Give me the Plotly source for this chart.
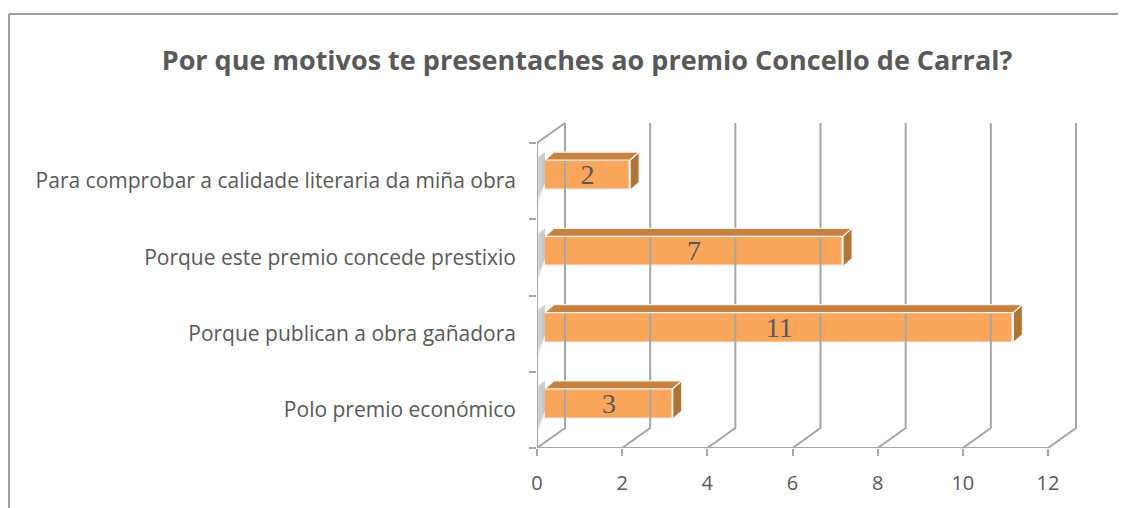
import plotly.graph_objects as go

# ---- data ----
categories = [
    "Polo premio económico",
    "Porque publican a obra gañadora",
    "Porque este premio concede prestixio",
    "Para comprobar a calidade literaria da miña obra",
]
values = [3, 11, 7, 2]
x_ticks = [0, 2, 4, 6, 8, 10, 12]
title_text = "Por que motivos te presentaches ao premio Concello de Carral?"

# ---- geometry / style ----
OFF = 8                                # page body margin shift
W, H = 1126 - OFF, 508 - OFF
ML = 537 - OFF
TOPPX = 110 - OFF
FLOOR = 448 - OFF
MR = W - (1086 - OFF)
MT, MB = TOPPX, H - FLOOR
px_x = (1048 - 537) / 12.0           # pixels per x unit
px_y = (448 - 143) / 4.0             # pixels per category
plot_w = W - ML - MR
plot_h = H - MT - MB
x_max = plot_w / px_x
y_max = plot_h / px_y

DX, DY = 28 / px_x, 20 / px_y        # full depth of the 3D box
OX, OY = 8 / px_x, 6 / px_y          # bar front-face offset (mid depth)
BDX, BDY = 9 / px_x, 8 / px_y        # bar depth
BW = 30 / px_y                       # bar thickness

GRID = "#A6A6A6"
FRONT = "#F9A65A"
TOP = "#C8823F"
SIDE = "#AE7434"
EDGE = "#F2F2F2"
TXT = "#595959"
n = len(categories)

fig = go.Figure()

# walls / floor gridlines
for v in x_ticks:
    fig.add_trace(go.Scatter(x=[v, v + DX, v + DX], y=[0, DY, n + DY], mode="lines",
                             line=dict(color=GRID, width=2), hoverinfo="skip", showlegend=False))
# left wall front edge + top diagonal
fig.add_trace(go.Scatter(x=[0, 0, DX], y=[0, n, n + DY], mode="lines",
                         line=dict(color=GRID, width=2), hoverinfo="skip", showlegend=False))
# floor front edge
fig.add_trace(go.Scatter(x=[x_ticks[0], x_ticks[-1]], y=[0, 0], mode="lines",
                         line=dict(color=GRID, width=2), hoverinfo="skip", showlegend=False))

# soft shadows on the left wall behind bars
for i, v in enumerate(values):
    yc = i + 0.5 + OY
    for k, a in enumerate([0.12, 0.14, 0.16]):
        fig.add_trace(go.Scatter(
            x=[0.03, OX, OX, 0.03],
            y=[yc - BW / 2 - 0.20 + k * 0.06, yc - BW / 2 + BDY, yc + BW / 2 + BDY,
               yc + BW / 2 + 0.06 - k * 0.02],
            fill="toself", fillcolor="rgba(120,120,120,%.2f)" % a, line=dict(width=0),
            mode="lines", hoverinfo="skip", showlegend=False))

# bars (front face)
fig.add_trace(go.Bar(
    y=[i + 0.5 + OY for i in range(n)], x=values, base=[OX] * n, orientation="h",
    width=BW, marker=dict(color=FRONT, line=dict(color=EDGE, width=1.5)),
    hoverinfo="skip", showlegend=False))

# 3D top and right faces
for i, v in enumerate(values):
    yc = i + 0.5 + OY
    yt, yb = yc + BW / 2, yc - BW / 2
    x1 = OX + v
    fig.add_trace(go.Scatter(
        x=[OX, x1, x1 + BDX, OX + BDX, OX], y=[yt, yt, yt + BDY, yt + BDY, yt],
        fill="toself", fillcolor=TOP, line=dict(color=EDGE, width=1.2),
        mode="lines", hoverinfo="skip", showlegend=False))
    fig.add_trace(go.Scatter(
        x=[x1, x1 + BDX, x1 + BDX, x1, x1], y=[yb, yb + BDY, yt + BDY, yt, yb],
        fill="toself", fillcolor=SIDE, line=dict(color=EDGE, width=1.2),
        mode="lines", hoverinfo="skip", showlegend=False))

# data labels centred on the front faces
fig.add_trace(go.Scatter(
    x=[OX + v / 2 for v in values], y=[i + 0.5 + OY - 2 / px_y for i in range(n)],
    mode="text", text=[str(v) for v in values], textposition="middle center",
    textfont=dict(family="Liberation Serif, DejaVu Serif, serif", size=28, color=TXT),
    hoverinfo="skip", showlegend=False, cliponaxis=False))

# chart border (top and left edges)
top_y = (FLOOR - (14 - OFF)) / plot_h
left_x = (1 - ML) / plot_w
fig.add_shape(type="line", xref="paper", yref="paper",
              x0=left_x, x1=(W - ML) / plot_w, y0=top_y, y1=top_y,
              line=dict(color="#9E9E9E", width=2), layer="below")
fig.add_shape(type="line", xref="paper", yref="paper",
              x0=left_x, x1=left_x, y0=top_y, y1=-(H - FLOOR) / plot_h,
              line=dict(color="#9E9E9E", width=2), layer="below")

fig.update_layout(
    width=W, height=H,
    margin=dict(l=ML, r=MR, t=MT, b=MB, autoexpand=False),
    paper_bgcolor="white", plot_bgcolor="white",
    title=dict(text="<b>" + title_text + "</b>", xref="container", yref="container",
               x=(587 - OFF) / W, y=1 - (61 - OFF) / H, xanchor="center", yanchor="middle",
               font=dict(family="Open Sans, sans-serif", size=27, color=TXT)),
    xaxis=dict(range=[0, x_max], tickvals=x_ticks, ticktext=[str(t) for t in x_ticks],
               showgrid=False, zeroline=False, showline=False,
               ticks="outside", ticklen=7, tickwidth=2, tickcolor=GRID,
               ticklabelstandoff=10,
               tickfont=dict(family="Open Sans, sans-serif", size=20, color=TXT)),
    yaxis=dict(range=[0, y_max], tickvals=[i + 0.5 for i in range(n)], ticktext=categories,
               showgrid=False, zeroline=False, showline=False, ticks="",
               minor=dict(tickvals=list(range(n + 1)), ticks="outside", ticklen=7,
                          tickwidth=2, tickcolor=GRID),
               ticklabelstandoff=20,
               tickfont=dict(family="Open Sans, sans-serif", size=21, color=TXT)),
    bargap=0,
)

fig.write_html("out.html",
               post_script="document.documentElement.style.overflow='hidden';"
                           "document.body.style.overflow='hidden';")
